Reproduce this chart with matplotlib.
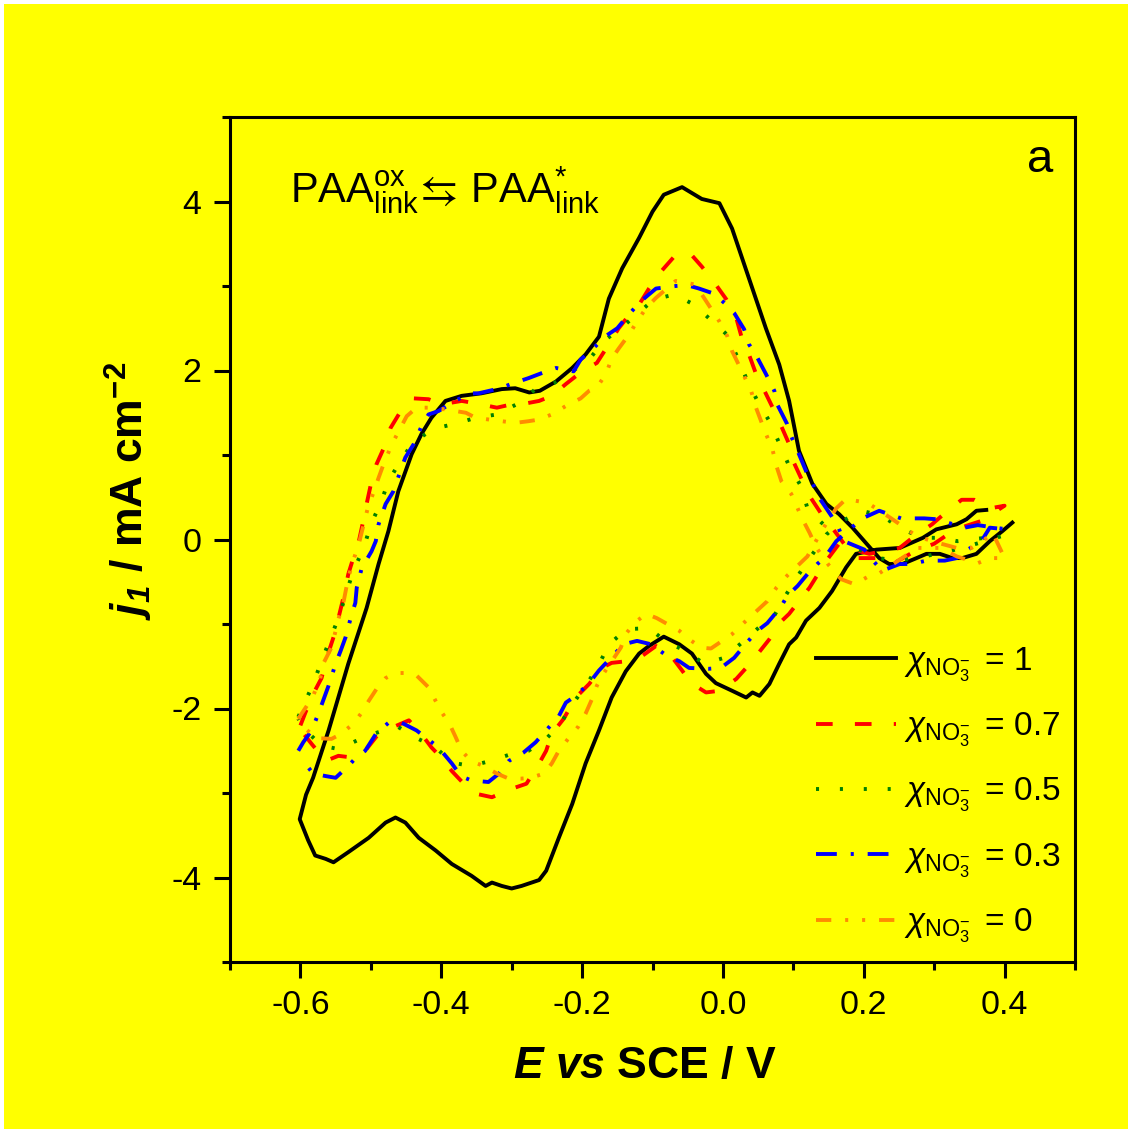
import matplotlib.pyplot as plt
from matplotlib.patches import Rectangle
from matplotlib.ticker import FixedLocator, FixedFormatter, MultipleLocator

plt.rcParams['font.family'] = ['Liberation Sans', 'DejaVu Sans']
plt.rcParams['mathtext.fontset'] = 'custom'
plt.rcParams['mathtext.rm'] = 'Liberation Sans'
plt.rcParams['mathtext.it'] = 'Liberation Sans:italic'
plt.rcParams['mathtext.bf'] = 'Liberation Sans:bold'
plt.rcParams['mathtext.bfit'] = 'Liberation Sans:italic:bold'
plt.rcParams['mathtext.fallback'] = 'stixsans'
plt.rcParams['axes.unicode_minus'] = False
plt.rcParams['lines.scale_dashes'] = False

# CV loops, E in V vs SCE, j in mA cm^-2
e_x10 = [0.374, 0.360, 0.346, 0.332, 0.303, 0.284, 0.251, 0.218, 0.189, 0.175, 0.155, 0.137, 0.118, 0.104,
         0.094, 0.080, 0.066, 0.052, 0.042, 0.033, 0.013, -0.010, -0.024, -0.044, -0.062, -0.084, -0.105,
         -0.119, -0.138, -0.158, -0.176, -0.195, -0.214, -0.233, -0.251, -0.261, -0.286, -0.300, -0.314,
         -0.328, -0.337, -0.357, -0.385, -0.408, -0.432, -0.451, -0.465, -0.479, -0.503, -0.532, -0.553,
         -0.564, -0.579, -0.589, -0.601,
         -0.592, -0.582, -0.560, -0.532, -0.506, -0.489, -0.475, -0.461, -0.442, -0.428, -0.414, -0.394,
         -0.371, -0.343, -0.314, -0.295, -0.275, -0.260, -0.237, -0.214, -0.195, -0.176, -0.162, -0.143,
         -0.119, -0.100, -0.084, -0.058, -0.030, -0.005, 0.013, 0.037, 0.061, 0.080, 0.094, 0.108, 0.127,
         0.147, 0.165, 0.184, 0.204, 0.222, 0.236, 0.255, 0.275, 0.289, 0.308, 0.326, 0.340, 0.360, 0.379,
         0.397, 0.411]
j_x10 = [0.35, 0.34, 0.24, 0.18, 0.12, 0.02, -0.10, -0.12, -0.17, -0.33, -0.61, -0.81, -0.96, -1.16,
         -1.24, -1.47, -1.71, -1.85, -1.81, -1.87, -1.79, -1.70, -1.59, -1.35, -1.24, -1.15, -1.26,
         -1.35, -1.56, -1.87, -2.26, -2.65, -3.13, -3.53, -3.92, -4.03, -4.10, -4.13, -4.10,
         -4.06, -4.10, -3.98, -3.84, -3.68, -3.53, -3.35, -3.29, -3.35, -3.53, -3.70, -3.82,
         -3.78, -3.74, -3.56, -3.31,
         -3.02, -2.82, -2.26, -1.47, -0.81, -0.29, 0.10, 0.57, 1.01, 1.25, 1.44, 1.64,
         1.70, 1.73, 1.78, 1.79, 1.74, 1.76, 1.87, 2.03, 2.19, 2.40, 2.85, 3.21,
         3.57, 3.88, 4.08, 4.17, 4.03, 3.98, 3.68, 3.09, 2.50, 2.07, 1.64, 1.05, 0.66,
         0.42, 0.30, 0.14, -0.05, -0.22, -0.29, -0.29, -0.22, -0.17, -0.17, -0.22, -0.22, -0.17, -0.02,
         0.10, 0.20]

e_x07 = [-0.600, -0.593, -0.582, -0.570, -0.563, -0.550, -0.546, -0.539, -0.532, -0.522, -0.517, -0.510,
         -0.506, -0.499, -0.492, -0.479, -0.472, -0.456, -0.439, -0.418, -0.399, -0.371, -0.350, -0.321,
         -0.300, -0.280, -0.261, -0.243, -0.223, -0.200, -0.179, -0.162, -0.148, -0.129, -0.119, -0.105,
         -0.088, -0.069, -0.048, -0.030, -0.013, 0.005, 0.019, 0.027, 0.037, 0.047, 0.059, 0.073, 0.084,
         0.094, 0.098, 0.113, 0.125, 0.140, 0.155, 0.172, 0.187, 0.222, 0.241, 0.270, 0.300, 0.330, 0.367,
         0.400,
         0.380, 0.357, 0.339, 0.315, 0.297, 0.269, 0.251, 0.226, 0.208, 0.185, 0.165, 0.147, 0.123, 0.094,
         0.084, 0.066, 0.047, 0.033, 0.019, -0.005, -0.024, -0.045, -0.058, -0.077, -0.095, -0.115,
         -0.136, -0.158, -0.172, -0.190, -0.209, -0.226, -0.243, -0.251, -0.261, -0.279, -0.300, -0.328,
         -0.350, -0.368, -0.385, -0.399, -0.414, -0.432, -0.446, -0.471, -0.489, -0.508, -0.527, -0.546,
         -0.564, -0.584, -0.600]
j_x07 = [-2.20, -2.05, -1.83, -1.64, -1.41, -1.08, -0.93, -0.69, -0.41, -0.14, -0.02, 0.25,
         0.42, 0.69, 0.89, 1.13, 1.32, 1.54, 1.67, 1.66, 1.60, 1.64, 1.61, 1.56,
         1.60, 1.61, 1.64, 1.70, 1.84, 1.99, 2.09, 2.31, 2.50, 2.70, 2.78, 2.97,
         3.17, 3.35, 3.40, 3.23, 3.05, 2.84, 2.62, 2.38, 2.19, 1.96, 1.76, 1.52, 1.32,
         1.13, 0.96, 0.69, 0.49, 0.30, 0.14, -0.05, -0.22, -0.22, -0.29, -0.15, -0.05, 0.12, 0.22,
         0.40,
         0.37, 0.47, 0.47, 0.31, 0.18, 0.02, -0.10, -0.14, -0.17, -0.12, -0.05, -0.25, -0.57, -0.88,
         -0.96, -1.18, -1.38, -1.52, -1.65, -1.79, -1.81, -1.70, -1.55, -1.34, -1.26, -1.38,
         -1.44, -1.46, -1.52, -1.71, -1.87, -2.12, -2.30, -2.50, -2.65, -2.89, -2.95, -3.05,
         -3.01, -2.89, -2.74, -2.59, -2.46, -2.26, -2.14, -2.23, -2.30, -2.50, -2.58, -2.56,
         -2.62, -2.42, -2.25]

e_x05 = [-0.603, -0.596, -0.582, -0.570, -0.557, -0.546, -0.535, -0.525, -0.510, -0.500, -0.486, -0.475,
         -0.458, -0.440, -0.411, -0.380, -0.351, -0.321, -0.293, -0.266, -0.240, -0.214, -0.190, -0.169,
         -0.145, -0.123, -0.098, -0.069, -0.041, -0.020, 0.005, 0.020, 0.034, 0.049, 0.066, 0.080, 0.094,
         0.111, 0.120, 0.140, 0.165, 0.191, 0.220, 0.250, 0.275, 0.303, 0.330, 0.360, 0.396,
         0.362, 0.333, 0.310, 0.282, 0.251, 0.226, 0.197, 0.170, 0.147, 0.125, 0.108, 0.090, 0.073, 0.054,
         0.027, 0.002, -0.027, -0.052, -0.079, -0.105, -0.136, -0.162, -0.176, -0.193, -0.212, -0.230,
         -0.251, -0.276, -0.301, -0.330, -0.358, -0.385, -0.408, -0.435, -0.463, -0.493, -0.520, -0.546,
         -0.570, -0.596, -0.603]
j_x05 = [-2.10, -1.97, -1.71, -1.44, -1.16, -0.93, -0.64, -0.37, -0.10, 0.18, 0.43, 0.69,
         0.93, 1.15, 1.31, 1.37, 1.44, 1.48, 1.60, 1.78, 1.85, 1.99, 2.13, 2.35,
         2.50, 2.66, 2.84, 2.90, 2.78, 2.62, 2.43, 2.17, 1.89, 1.64, 1.40, 1.14, 0.87,
         0.63, 0.37, 0.20, 0.02, -0.11, -0.22, -0.25, -0.22, -0.17, -0.12, -0.05, 0.04,
         0.01, -0.02, 0.02, 0.02, 0.14, 0.28, 0.34, 0.22, 0.06, -0.20, -0.41, -0.65, -0.90, -1.02,
         -1.22, -1.40, -1.47, -1.32, -1.22, -1.05, -1.06, -1.24, -1.48, -1.71, -1.93, -2.17,
         -2.36, -2.50, -2.54, -2.62, -2.68, -2.64, -2.46, -2.35, -2.21, -2.29, -2.38, -2.48,
         -2.44, -2.23, -2.12]

e_x03 = [-0.603, -0.596, -0.584, -0.574, -0.567, -0.560, -0.550, -0.543, -0.536, -0.527, -0.522, -0.520,
         -0.513, -0.499, -0.493, -0.489, -0.479, -0.468, -0.458, -0.451, -0.439, -0.428, -0.418, -0.404,
         -0.380, -0.361, -0.347, -0.316, -0.301, -0.276, -0.257, -0.237, -0.212, -0.202, -0.188, -0.166,
         -0.150, -0.138, -0.119, -0.108, -0.095, -0.067, -0.051, -0.034, -0.013, 0.002, 0.016, 0.030,
         0.037, 0.049, 0.061, 0.073, 0.077, 0.091, 0.097, 0.106, 0.118, 0.127, 0.137, 0.154, 0.164, 0.172,
         0.201, 0.211, 0.226, 0.251, 0.268, 0.289, 0.315, 0.332, 0.340, 0.367, 0.379, 0.403,
         0.362, 0.343, 0.319, 0.303, 0.286, 0.253, 0.222, 0.198, 0.180, 0.161, 0.144, 0.134, 0.120, 0.106,
         0.091, 0.083, 0.063, 0.049, 0.034, 0.016, -0.003, -0.020, -0.048, -0.062, -0.079, -0.102, -0.122,
         -0.141, -0.159, -0.176, -0.190, -0.209, -0.223, -0.233, -0.251, -0.266, -0.283, -0.304, -0.318,
         -0.333, -0.358, -0.372, -0.385, -0.404, -0.421, -0.435, -0.456, -0.475, -0.492, -0.508, -0.522,
         -0.532, -0.550, -0.564, -0.582, -0.600]
j_x03 = [-2.50, -2.40, -2.26, -2.05, -1.89, -1.73, -1.47, -1.32, -1.16, -0.88, -0.75, -0.57,
         -0.34, -0.14, -0.02, 0.18, 0.42, 0.57, 0.81, 0.97, 1.13, 1.34, 1.48, 1.52,
         1.64, 1.73, 1.73, 1.79, 1.84, 1.91, 1.97, 2.03, 1.99, 2.13, 2.23, 2.41,
         2.50, 2.62, 2.80, 2.88, 2.97, 3.00, 3.01, 2.97, 2.91, 2.80, 2.68, 2.49,
         2.31, 2.15, 1.96, 1.76, 1.60, 1.37, 1.22, 1.05, 0.81, 0.67, 0.49, 0.28, 0.14, -0.02,
         -0.12, -0.23, -0.37, -0.29, -0.29, -0.25, -0.25, -0.22, -0.16, -0.02, 0.14, 0.12,
         0.17, 0.14, 0.20, 0.24, 0.25, 0.25, 0.34, 0.25, 0.12, -0.02, -0.22, -0.29, -0.41, -0.55,
         -0.67, -0.79, -0.99, -1.08, -1.22, -1.40, -1.52, -1.53, -1.52, -1.44, -1.38, -1.24, -1.20,
         -1.24, -1.40, -1.55, -1.70, -1.85, -1.93, -2.09, -2.26, -2.40, -2.52, -2.62, -2.77,
         -2.87, -2.85, -2.80, -2.65, -2.46, -2.35, -2.26, -2.17, -2.17, -2.29, -2.50, -2.59,
         -2.68, -2.82, -2.80, -2.77, -2.58]

e_x00 = [-0.603, -0.591, -0.582, -0.572, -0.567, -0.556, -0.550, -0.546, -0.539, -0.532, -0.525, -0.517,
         -0.505, -0.489, -0.482, -0.470, -0.458, -0.449, -0.435, -0.418, -0.394, -0.365, -0.351, -0.333,
         -0.314, -0.295, -0.276, -0.261, -0.243, -0.223, -0.202, -0.190, -0.179, -0.166, -0.158, -0.148,
         -0.133, -0.122, -0.109, -0.095, -0.067, -0.041, -0.030, -0.005, 0.006, 0.013, 0.027, 0.040,
         0.047, 0.061, 0.070, 0.076, 0.083, 0.097, 0.106, 0.113, 0.123, 0.133, 0.150, 0.168, 0.187, 0.208,
         0.222, 0.240, 0.258, 0.276, 0.310, 0.332, 0.362, 0.379, 0.400,
         0.383, 0.369, 0.353, 0.332, 0.310, 0.290, 0.275, 0.258, 0.239, 0.208, 0.194, 0.175, 0.161, 0.140,
         0.120, 0.091, 0.076, 0.063, 0.033, 0.013, -0.001, -0.017, -0.031, -0.048, -0.062, -0.079, -0.094,
         -0.109, -0.126, -0.138, -0.145, -0.169, -0.179, -0.186, -0.195, -0.205, -0.219, -0.233, -0.243,
         -0.254, -0.273, -0.287, -0.304, -0.321, -0.340, -0.358, -0.371, -0.380, -0.389, -0.399, -0.408,
         -0.418, -0.435, -0.449, -0.465, -0.479, -0.492, -0.503, -0.513, -0.525, -0.542, -0.556, -0.577,
         -0.593, -0.603]
j_x00 = [-2.12, -1.97, -1.85, -1.65, -1.46, -1.28, -1.08, -0.94, -0.75, -0.45, -0.25, -0.05,
         0.35, 0.73, 0.89, 1.13, 1.32, 1.46, 1.56, 1.56, 1.54, 1.50, 1.44, 1.42,
         1.40, 1.38, 1.40, 1.42, 1.48, 1.58, 1.67, 1.76, 1.80, 1.96, 2.14, 2.26,
         2.43, 2.58, 2.74, 2.86, 3.06, 3.02, 2.90, 2.58, 2.41, 2.23, 1.99, 1.76,
         1.56, 1.25, 1.08, 0.87, 0.69, 0.54, 0.37, 0.24, 0.08, -0.10, -0.30, -0.47, -0.53, -0.43,
         -0.40, -0.30, -0.20, -0.10, -0.10, -0.20, -0.28, -0.22, -0.22,
         0.08, -0.02, -0.10, -0.10, -0.05, 0.00, 0.04, 0.14, 0.25, 0.42, 0.45, 0.48, 0.37, 0.10,
         -0.20, -0.43, -0.57, -0.73, -0.96, -1.12, -1.20, -1.29, -1.28, -1.18, -1.08, -1.00, -0.93,
         -0.88, -0.99, -1.12, -1.28, -1.58, -1.73, -1.89, -2.06, -2.21, -2.35, -2.50, -2.65,
         -2.77, -2.82, -2.83, -2.83, -2.77, -2.68, -2.62, -2.50, -2.33, -2.17, -2.05, -1.91,
         -1.75, -1.61, -1.58, -1.58, -1.64, -1.77, -1.91, -2.05, -2.18, -2.30, -2.36, -2.35,
         -2.24, -2.12]

x_ticks = [-0.6, -0.4, -0.2, 0.0, 0.2, 0.4]
x_labels = ['-0.6', '-0.4', '-0.2', '0.0', '0.2', '0.4']
y_ticks = [-4, -2, 0, 2, 4]
y_labels = ['-4', '-2', '0', '2', '4']

W, H = 1132, 1133
fig = plt.figure(figsize=(W / 100, H / 100), dpi=100, facecolor='white')
fig.add_artist(Rectangle((4 / W, 4 / H), 1 - 8 / W, 1 - 8 / H, transform=fig.transFigure,
                         facecolor='#FFFF00', edgecolor='none', zorder=-10))
ax = fig.add_axes([230 / W, 171 / H, 845 / W, 845 / H])
ax.set_facecolor('#FFFF00')

lw = 2.8
chi = r'$\chi_{\mathrm{NO}_{3}^{-}}\,$'
ax.plot(e_x10, j_x10, color='black', lw=lw, ls='-', label=chi + ' = 1')
ax.plot(e_x07, j_x07, color='#FF0000', lw=lw, dashes=(12, 16), label=chi + ' = 0.7')
ax.plot(e_x05, j_x05, color='#008000', lw=lw, dashes=(2.2, 15), label=chi + ' = 0.5')
ax.plot(e_x03, j_x03, color='#0000FF', lw=lw, dashes=(15, 10, 2.2, 10), label=chi + ' = 0.3')
ax.plot(e_x00, j_x00, color='#FF8C00', lw=lw, dashes=(11, 10, 2.2, 10, 2.2, 10), label=chi + ' = 0')

ax.set_xlim(-0.7, 0.5)
ax.set_ylim(-5, 5)
ax.xaxis.set_major_locator(FixedLocator(x_ticks))
ax.xaxis.set_major_formatter(FixedFormatter(x_labels))
ax.xaxis.set_minor_locator(MultipleLocator(0.1))
ax.yaxis.set_major_locator(FixedLocator(y_ticks))
ax.yaxis.set_major_formatter(FixedFormatter(y_labels))
ax.yaxis.set_minor_locator(MultipleLocator(1))

for s in ax.spines.values():
    s.set_linewidth(2.2)
ax.tick_params(which='both', direction='out', top=False, right=False, width=2.2, labelsize=24.5)
ax.tick_params(which='major', length=11.5, pad=9)
ax.tick_params(which='minor', length=5.8)

ax.text(0.491, -0.137, r'$\mathbfit{E}$ $\mathbfit{vs}$ SCE / V', transform=ax.transAxes,
        fontsize=32, fontweight='bold', ha='center', va='baseline')
ax.text(-0.12, 0.557, r'$\mathbfit{j}_{\mathbfit{1}}$ / mA cm$^{\mathbf{-2}}$', transform=ax.transAxes,
        fontsize=32, fontweight='bold', rotation=90, ha='center', va='center')

ax.text(0.071, 0.899, r'PAA$_{\rm link}^{\rm ox}\!\leftrightarrows\!$ PAA$_{\rm link}^{*}$',
        transform=ax.transAxes, fontsize=30, ha='left', va='baseline')
ax.text(0.974, 0.935, 'a', transform=ax.transAxes, fontsize=34, ha='right', va='baseline')

ax.legend(loc='center left', bbox_to_anchor=(0.6935, 0.1977), frameon=False, fontsize=24,
          handlelength=2.4, handletextpad=0.25, labelspacing=0.8, borderpad=0, borderaxespad=0)

fig.savefig('out.png', dpi=100, facecolor=fig.get_facecolor())
